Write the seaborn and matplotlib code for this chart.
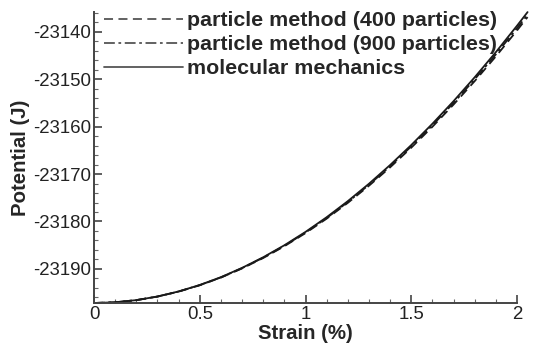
import numpy as np
import pandas as pd
import seaborn as sns
import matplotlib
matplotlib.use("Agg")
import matplotlib.pyplot as plt
from matplotlib.ticker import MultipleLocator

strain = [0.0, 0.1, 0.2, 0.3, 0.4, 0.5, 0.6, 0.7, 0.8, 0.9, 1.0,
          1.1, 1.2, 1.3, 1.4, 1.5, 1.6, 1.7, 1.8, 1.9, 2.0, 2.05]
pot_400 = [-23197.20, -23197.05, -23196.60, -23195.85, -23194.80, -23193.46, -23191.84,
           -23189.91, -23187.71, -23185.22, -23182.45, -23179.40, -23176.07, -23172.46,
           -23168.58, -23164.43, -23160.02, -23155.33, -23150.38, -23145.17, -23139.70, -23136.87]
pot_900 = [-23197.20, -23197.05, -23196.60, -23195.84, -23194.78, -23193.43, -23191.80,
           -23189.85, -23187.63, -23185.13, -23182.33, -23179.26, -23175.90, -23172.26,
           -23168.34, -23164.16, -23159.71, -23154.99, -23149.99, -23144.74, -23139.22, -23136.37]
pot_mm = [-23197.20, -23197.05, -23196.59, -23195.83, -23194.76, -23193.40, -23191.75,
          -23189.79, -23187.55, -23185.02, -23182.20, -23179.10, -23175.71, -23172.04,
          -23168.09, -23163.87, -23159.38, -23154.61, -23149.57, -23144.27, -23138.70, -23135.82]

labels = ["particle method (400 particles)", "particle method (900 particles)", "molecular mechanics"]
x_ticks = [0, 0.5, 1, 1.5, 2]
x_ticklabels = ["0", "0.5", "1", "1.5", "2"]
y_ticks = [-23140, -23150, -23160, -23170, -23180, -23190]
y_ticklabels = ["-23140", "-23150", "-23160", "-23170", "-23180", "-23190"]

df = pd.concat([
    pd.DataFrame({"strain": strain, "pot": pot_400, "series": labels[0]}),
    pd.DataFrame({"strain": strain, "pot": pot_900, "series": labels[1]}),
    pd.DataFrame({"strain": strain, "pot": pot_mm, "series": labels[2]}),
])

sns.set_style("white")
plt.rcParams['font.family'] = ['Liberation Sans', 'DejaVu Sans']

fig = plt.figure(figsize=(5.33, 3.5), dpi=100)
ax = fig.add_axes([94/533, 1-303/350, (517-94)/533, (303-12)/350])

styles = {labels[0]: (0, (5, 3)), labels[1]: (0, (6, 2, 1.5, 2)), labels[2]: "-"}
for lab in labels:
    sub = df[df.series == lab]
    sns.lineplot(x=sub.strain, y=sub.pot, ax=ax, color="#1a1a1a", lw=1.3,
                 linestyle=styles[lab], label=lab, clip_on=False, sort=True)

ax.set_xlim(0, 2)
ax.set_ylim(-23197.2, -23135.8)
ax.xaxis.set_minor_locator(MultipleLocator(0.1))
ax.yaxis.set_minor_locator(MultipleLocator(2))
ax.set_xticks(x_ticks)
ax.set_xticklabels(x_ticklabels)
ax.set_yticks(y_ticks)
ax.set_yticklabels(y_ticklabels)

for s in ["top", "right"]:
    ax.spines[s].set_visible(False)
for s in ["left", "bottom"]:
    ax.spines[s].set_color("#444444")
    ax.spines[s].set_linewidth(1.4)
ax.tick_params(which="major", direction="in", length=6, width=1.2, color="#444444",
               labelsize=13.4, labelcolor="#222222", pad=2, left=True, bottom=True)
ax.tick_params(which="minor", direction="in", length=3, width=0.8, color="#666666",
               left=True, bottom=True)

ax.set_xlabel("Strain (%)", fontsize=14.7, fontweight="bold", labelpad=1)
ax.set_ylabel("Potential (J)", fontsize=14.7, fontweight="bold", labelpad=2)

leg = ax.legend(loc="upper left", bbox_to_anchor=(104/533, 1-11/350), bbox_transform=fig.transFigure,
                frameon=False, fontsize=15.4, handlelength=3.7, handletextpad=0.2,
                labelspacing=0.24, borderpad=0, borderaxespad=0)
for t in leg.get_texts():
    t.set_fontweight("bold")
for h in leg.get_lines():
    h.set_color("#555555")
    h.set_linewidth(1.3)

fig.savefig("out.png", dpi=100)
